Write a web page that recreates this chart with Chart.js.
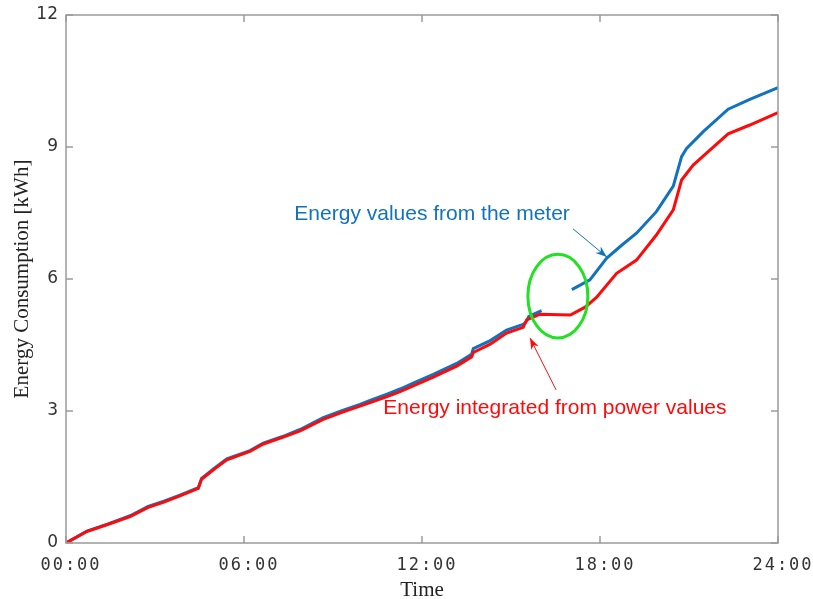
<!DOCTYPE html>
<html>
<head>
<meta charset="utf-8">
<script src="https://cdn.jsdelivr.net/npm/chart.js@4"></script>
<style>
  html, body { margin: 0; padding: 0; background: #fff; }
  #wrap { width: 813px; height: 599px; }
</style>
</head>
<body>
<div id="wrap"><canvas id="energy"></canvas></div>
<script>
'use strict'

// time of day in hours, energy in kWh
var powerHours = [0,0.7,1.4,2.16,2.77,3.3,3.84,4.46,4.57,5.0,5.42,6.2,6.65,7.3,7.89,8.67,9.3,9.91,10.25,10.8,11.26,11.8,12.38,13.17,13.67,13.73,14.3,14.85,15.41,15.53,15.98,17.0,17.5,17.88,18.56,19.23,19.9,20.47,20.75,21.14,21.59,22.32,23.05,24];
var powerKwh   = [0,0.26,0.42,0.6,0.81,0.93,1.07,1.24,1.45,1.68,1.89,2.08,2.25,2.4,2.55,2.81,2.97,3.11,3.19,3.32,3.44,3.6,3.77,4.02,4.23,4.33,4.52,4.77,4.9,5.07,5.2,5.18,5.36,5.58,6.13,6.43,7.0,7.57,8.25,8.59,8.86,9.3,9.5,9.78];

var meterHours = [0,0.7,1.4,2.16,2.77,3.3,3.84,4.46,4.57,5.0,5.42,6.2,6.65,7.3,7.89,8.67,9.3,9.91,10.25,10.8,11.26,11.8,12.38,13.17,13.67,13.73,14.3,14.85,15.41,15.5,15.6,16.03,16.5,17.05,17.66,18.22,18.7,19.23,19.9,20.47,20.75,20.92,21.48,22.32,23.05,24];
var meterKwh   = [0,0.27,0.43,0.62,0.83,0.95,1.09,1.26,1.47,1.7,1.91,2.1,2.27,2.42,2.58,2.85,3.01,3.15,3.24,3.38,3.5,3.66,3.83,4.08,4.29,4.42,4.6,4.84,4.97,5.02,5.15,5.28,null,5.76,5.98,6.47,6.75,7.04,7.53,8.11,8.78,8.97,9.35,9.86,10.08,10.35];

var xTicks = [0,6,12,18,24];
var yTicks = [0,3,6,9,12];

var blue = '#1172bd';
var red = '#ff0a0a';
var frame = '#9a9a9a';

function toPoints(xs, ys) {
  return xs.map(function (x, i) { return {x: x, y: ys[i]}; });
}

function hhmm(h) {
  return (h < 10 ? '0' : '') + h + ':00';
}

// annotation text, arrows and circle, in data units
var notes = [
  {text: 'Energy values from the meter', x: 12.34, y: 7.48, color: blue},
  {text: 'Energy integrated from power values', x: 16.48, y: 3.07, color: red}
];
var arrows = [
  {from: [17.09, 7.14], to: [18.23, 6.5], color: blue},
  {from: [16.52, 3.48], to: [15.64, 4.66], color: red}
];
var circle = {x: 16.58, y: 5.61, rx: 1.01, ry: 0.95};

var framePlugin = {
  id: 'framePlugin',
  afterDraw: function (chart) {
    var c = chart.ctx, a = chart.chartArea;
    var xs = chart.scales.x, ys = chart.scales.y;
    c.save();
    c.strokeStyle = frame;
    c.lineWidth = 1.5;
    c.strokeRect(a.left, a.top, a.right - a.left, a.bottom - a.top);
    c.beginPath();
    xTicks.forEach(function (t) {
      var px = xs.getPixelForValue(t);
      c.moveTo(px, a.bottom); c.lineTo(px, a.bottom - 7);
      c.moveTo(px, a.top); c.lineTo(px, a.top + 7);
    });
    yTicks.forEach(function (t) {
      var py = ys.getPixelForValue(t);
      c.moveTo(a.left, py); c.lineTo(a.left + 7, py);
      c.moveTo(a.right, py); c.lineTo(a.right - 7, py);
    });
    c.stroke();

    // green ellipse
    var cx = xs.getPixelForValue(circle.x), cy = ys.getPixelForValue(circle.y);
    var rx = xs.getPixelForValue(circle.x + circle.rx) - cx;
    var ry = cy - ys.getPixelForValue(circle.y + circle.ry);
    c.strokeStyle = '#22e022';
    c.lineWidth = 3;
    c.beginPath();
    c.ellipse(cx, cy, rx, ry, 0, 0, Math.PI * 2);
    c.stroke();

    // arrows
    arrows.forEach(function (ar) {
      var x1 = xs.getPixelForValue(ar.from[0]), y1 = ys.getPixelForValue(ar.from[1]);
      var x2 = xs.getPixelForValue(ar.to[0]), y2 = ys.getPixelForValue(ar.to[1]);
      var ang = Math.atan2(y2 - y1, x2 - x1);
      c.strokeStyle = ar.color;
      c.fillStyle = ar.color;
      c.lineWidth = 1;
      c.beginPath();
      c.moveTo(x1, y1); c.lineTo(x2, y2);
      c.stroke();
      c.beginPath();
      c.moveTo(x2, y2);
      c.lineTo(x2 - 12 * Math.cos(ang - 0.35), y2 - 12 * Math.sin(ang - 0.35));
      c.lineTo(x2 - 8 * Math.cos(ang), y2 - 8 * Math.sin(ang));
      c.lineTo(x2 - 12 * Math.cos(ang + 0.35), y2 - 12 * Math.sin(ang + 0.35));
      c.closePath();
      c.fill();
    });

    // labels
    c.font = '21px "Liberation Sans", Arial, sans-serif';
    c.textAlign = 'center';
    c.textBaseline = 'middle';
    notes.forEach(function (n) {
      c.fillStyle = n.color;
      c.fillText(n.text, xs.getPixelForValue(n.x), ys.getPixelForValue(n.y));
    });
    c.restore();
  }
};

// spaced-out monospace time labels
function spaceLabels(s) {
  if (s._spaced) return;
  var orig = s.drawLabels;
  s.drawLabels = function (area) {
    var old = this.ctx.letterSpacing;
    this.ctx.save();
    this.ctx.letterSpacing = '2px';
    orig.call(this, area);
    this.ctx.restore();
    this.ctx.letterSpacing = old || '0px';
  };
  s._spaced = true;
}

var ctx = document.getElementById('energy');
var chart = new Chart(ctx, {
  type: 'line',
  data: {
    datasets: [{
      label: 'Energy integrated from power values',
      data: toPoints(powerHours, powerKwh),
      borderColor: red,
      borderWidth: 3,
      pointRadius: 0,
      tension: 0
    }, {
      label: 'Energy values from the meter',
      data: toPoints(meterHours, meterKwh),
      borderColor: blue,
      borderWidth: 3,
      pointRadius: 0,
      tension: 0,
      spanGaps: false
    }]
  },
  options: {
    responsive: true,
    maintainAspectRatio: false,
    animation: false,
    layout: {padding: {top: 15, right: 35, left: 0, bottom: 0}},
    plugins: {
      legend: {display: false},
      tooltip: {enabled: false}
    },
    scales: {
      x: {
        type: 'linear',
        min: 0,
        max: 24,
        afterBuildTicks: function (s) { s.ticks = xTicks.map(function (v) { return {value: v}; }); },
        afterFit: function (s) {
          s.height = 56;
          s.paddingLeft = 0;
          s.paddingRight = 0;
          spaceLabels(s);
        },
        grid: {display: false, drawTicks: false},
        border: {display: false},
        ticks: {
          padding: 12,
          labelOffset: 5,
          color: '#333',
          font: {family: '"DejaVu Sans Mono", monospace', size: 17},
          maxRotation: 0,
          callback: function (v) { return hhmm(v); }
        },
        title: {
          display: true,
          text: 'Time',
          color: '#222',
          padding: {top: 0, bottom: -4},
          font: {family: '"Liberation Serif", "Times New Roman", serif', size: 21}
        }
      },
      y: {
        min: 0,
        max: 12,
        afterBuildTicks: function (s) { s.ticks = yTicks.map(function (v) { return {value: v}; }); },
        afterFit: function (s) {
          s.width = 66;
          s.paddingTop = 0;
          s.paddingBottom = 0;
        },
        grid: {display: false, drawTicks: false},
        border: {display: false},
        ticks: {
          padding: 8,
          color: '#333',
          font: {family: '"DejaVu Sans", sans-serif', size: 17}
        },
        title: {
          display: true,
          text: 'Energy Consumption [kWh]',
          color: '#222',
          padding: {top: 10, bottom: 0},
          font: {family: '"Liberation Serif", "Times New Roman", serif', size: 21}
        }
      }
    }
  },
  plugins: [framePlugin]
});
</script>
</body>
</html>
